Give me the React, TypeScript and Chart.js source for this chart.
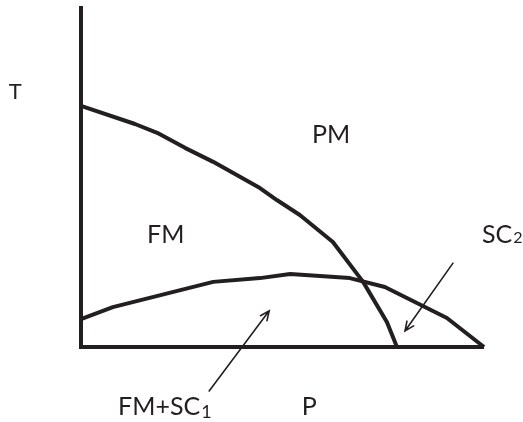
import React, { useEffect, useRef } from "react";
import { Chart, registerables } from "chart.js";

Chart.register(...registerables);

const INK = "#231f20";
const FONT = "Lato, 'DejaVu Sans', sans-serif";

// Axis ranges (arbitrary units)
const P_RANGE = [0, 10];
const T_RANGE = [0, 10];

// FM / PM boundary
const fmBoundaryP = [0, 1.34, 1.89, 2.58, 3.28, 4.44, 4.86, 5.43, 6.25, 7.0, 7.59, 7.84];
const fmBoundaryT = [7.07, 6.54, 6.28, 5.84, 5.43, 4.66, 4.31, 3.87, 3.08, 1.91, 0.73, 0];

// Superconducting dome boundary
const scBoundaryP = [0, 0.79, 3.28, 4.44, 5.19, 6.67, 7.54, 9.08, 10];
const scBoundaryT = [0.82, 1.17, 1.91, 2.02, 2.14, 2.02, 1.76, 0.85, 0];

// Region / axis labels (text, subscript, P, T of baseline-left)
const labelTexts = ["T", "PM", "FM", "FM+SC", "P", "SC"];
const labelSubs = ["", "", "", "1", "", "2"];
const labelSizes = [22, 25, 25, 25, 25, 25];
const labelP = [-1.79, 5.73, 1.64, 0.92, 5.48, 9.95];
const labelT = [7.27, 5.98, 3.05, -2.0, -2.0, 3.05];

// Arrows (from -> to)
const arrowFromP = [3.18, 9.23];
const arrowFromT = [-1.29, 2.46];
const arrowToP = [4.67, 8.04];
const arrowToT = [1.06, 0.47];

const toPoints = (xs: number[], ys: number[]) => xs.map((x, i) => ({ x, y: ys[i] }));

const decorPlugin = {
  id: "decor",
  beforeDatasetsDraw(chart: any) {
    const { ctx, scales } = chart;
    const xs = scales.x;
    const ys = scales.y;
    const x0 = xs.getPixelForValue(P_RANGE[0]);
    const x1 = xs.getPixelForValue(P_RANGE[1]);
    const y0 = ys.getPixelForValue(T_RANGE[0]);
    const y1 = ys.getPixelForValue(T_RANGE[1]);
    ctx.save();
    ctx.strokeStyle = INK;
    ctx.lineWidth = 4;
    ctx.lineJoin = "miter";
    ctx.lineCap = "butt";
    ctx.beginPath();
    ctx.moveTo(x0, y1);
    ctx.lineTo(x0, y0);
    ctx.lineTo(x1, y0);
    ctx.stroke();
    ctx.restore();
  },
  afterDatasetsDraw(chart: any) {
    const { ctx, scales } = chart;
    const xs = scales.x;
    const ys = scales.y;
    ctx.save();
    ctx.fillStyle = INK;
    ctx.strokeStyle = INK;
    ctx.textAlign = "left";
    ctx.textBaseline = "alphabetic";
    labelTexts.forEach((t, i) => {
      const px = xs.getPixelForValue(labelP[i]);
      const py = ys.getPixelForValue(labelT[i]);
      ctx.font = `${labelSizes[i]}px ${FONT}`;
      ctx.fillText(t, px, py);
      const sub = labelSubs[i];
      if (sub) {
        const w = ctx.measureText(t).width;
        if (sub === "1") {
          ctx.font = `18px ${FONT}`;
          ctx.fillText(sub, px + w + 1, py + 3);
        } else {
          ctx.font = `16px ${FONT}`;
          ctx.fillText(sub, px + w + 1, py);
        }
      }
    });
    ctx.lineWidth = 1.6;
    ctx.lineCap = "round";
    arrowFromP.forEach((_, i) => {
      const ax = xs.getPixelForValue(arrowFromP[i]);
      const ay = ys.getPixelForValue(arrowFromT[i]);
      const bx = xs.getPixelForValue(arrowToP[i]);
      const by = ys.getPixelForValue(arrowToT[i]);
      const ang = Math.atan2(by - ay, bx - ax);
      const hl = 10;
      const spread = 0.42;
      ctx.beginPath();
      ctx.moveTo(ax, ay);
      ctx.lineTo(bx, by);
      ctx.moveTo(bx - hl * Math.cos(ang - spread), by - hl * Math.sin(ang - spread));
      ctx.lineTo(bx, by);
      ctx.lineTo(bx - hl * Math.cos(ang + spread), by - hl * Math.sin(ang + spread));
      ctx.stroke();
    });
    ctx.restore();
  },
};

export default function App() {
  const ref = useRef<HTMLCanvasElement | null>(null);
  useEffect(() => {
    document.body.style.margin = "0";
    const canvas = ref.current;
    if (!canvas) return;
    const lineStyle = {
      showLine: true,
      borderColor: INK,
      borderWidth: 4,
      pointRadius: 0,
      tension: 0,
      borderJoinStyle: "round" as const,
      clip: false as any,
    };
    const chart = new Chart(canvas, {
      type: "scatter",
      data: {
        datasets: [
          { label: "FM/PM", data: toPoints(fmBoundaryP, fmBoundaryT), ...lineStyle },
          { label: "SC", data: toPoints(scBoundaryP, scBoundaryT), ...lineStyle },
        ],
      },
      options: {
        responsive: false,
        animation: false,
        devicePixelRatio: 1,
        layout: { padding: { left: 81, right: 39, top: 6, bottom: 75 } },
        plugins: { legend: { display: false }, tooltip: { enabled: false } },
        scales: {
          x: { type: "linear", min: P_RANGE[0], max: P_RANGE[1], display: false },
          y: { type: "linear", min: T_RANGE[0], max: T_RANGE[1], display: false },
        },
      },
      plugins: [decorPlugin],
    });
    if ((document as any).fonts && (document as any).fonts.ready) {
      (document as any).fonts.ready.then(() => {
        try { chart.draw(); } catch (e) { /* destroyed */ }
      });
    }
    return () => chart.destroy();
  }, []);
  return (
    <div style={{ width: 523, height: 422, background: "#fff" }}>
      <canvas ref={ref} width={523} height={422} style={{ width: 523, height: 422, display: "block" }} />
    </div>
  );
}
